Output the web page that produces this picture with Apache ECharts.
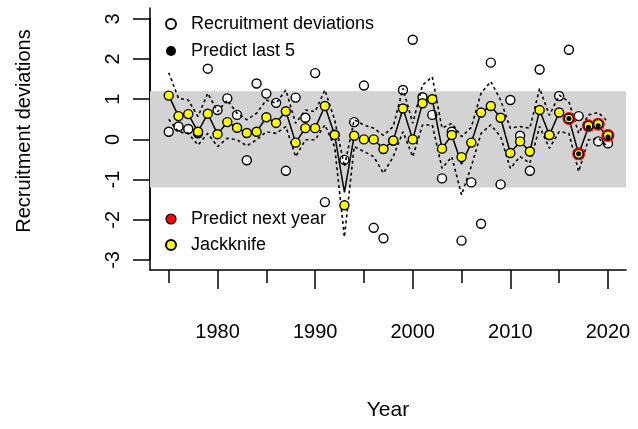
<!DOCTYPE html>
<html>
<head>
<meta charset="utf-8">
<script src="https://cdn.jsdelivr.net/npm/echarts@6/dist/echarts.min.js"></script>
<style>
html, body { margin: 0; padding: 0; background: #fff; }
#main { width: 638px; height: 429px; }
</style>
</head>
<body>
<div id="main"></div>
<script>
// years of the recruitment series
var years = [1975, 1976, 1977, 1978, 1979, 1980, 1981, 1982, 1983, 1984,
             1985, 1986, 1987, 1988, 1989, 1990, 1991, 1992, 1993, 1994,
             1995, 1996, 1997, 1998, 1999, 2000, 2001, 2002, 2003, 2004,
             2005, 2006, 2007, 2008, 2009, 2010, 2011, 2012, 2013, 2014,
             2015, 2016, 2017, 2018, 2019, 2020];

// open circles
var recDevs = [0.19, 0.32, 0.26, 0.15, 1.76, 0.73, 1.02, 0.61, -0.52, 1.39,
               1.14, 0.91, -0.78, 1.04, 0.54, 1.65, -1.56, 0.12, -0.51, 0.43,
               1.34, -2.20, -2.46, -0.03, 1.23, 2.48, 1.05, 0.61, -0.97, 0.19,
               -2.52, -1.07, -2.10, 1.91, -1.12, 0.98, 0.09, -0.78, 1.74, 0.11,
               1.08, 2.23, 0.58, 0.34, -0.05, -0.10];

// yellow points
var jackknife = [1.09, 0.58, 0.63, 0.19, 0.64, 0.13, 0.43, 0.29, 0.16, 0.19,
                 0.55, 0.41, 0.70, -0.08, 0.28, 0.28, 0.83, 0.11, -1.64, 0.09,
                 0.00, 0.00, -0.24, -0.03, 0.77, 0.00, 0.90, 1.00, -0.23, 0.11,
                 -0.44, -0.08, 0.67, 0.83, 0.54, -0.34, -0.05, -0.30, 0.73, 0.11,
                 0.67, 0.52, -0.36, 0.34, 0.38, 0.10];

// solid line
var estimate = [1.09, 0.58, 0.63, 0.19, 0.64, 0.13, 0.43, 0.29, 0.16, 0.19,
                0.55, 0.41, 0.70, -0.08, 0.28, 0.28, 0.83, 0.11, -1.32, 0.09,
                0.00, 0.00, -0.24, -0.03, 0.77, 0.00, 0.90, 1.00, -0.23, 0.11,
                -0.62, -0.08, 0.67, 0.83, 0.54, -0.34, -0.05, -0.30, 0.73, 0.11,
                0.67, 0.52, -0.36, 0.30, 0.34, 0.06];

// dotted bounds
var upper = [1.66, 1.02, 0.98, 0.57, 1.15, 0.69, 0.98, 0.65, 0.49, 0.65,
             0.98, 0.90, 1.23, 0.40, 0.73, 0.69, 1.23, 0.49, -0.68, 0.49,
             0.36, 0.28, 0.10, 0.32, 1.27, 0.40, 1.35, 1.56, 0.28, 0.40,
             0.07, 0.30, 1.15, 1.44, 0.98, 0.28, 0.32, 0.28, 1.27, 0.60,
             1.10, 0.94, 0.15, 0.61, 0.67, 0.44];
var lower = [0.50, 0.19, 0.15, -0.14, 0.15, -0.18, 0.03, -0.01, -0.16, -0.01,
             0.19, 0.15, 0.32, -0.43, -0.01, -0.01, 0.36, -0.18, -2.43, -0.18,
             -0.30, -0.43, -0.84, -0.43, 0.19, -0.43, 0.36, 0.36, -0.72, -0.43,
             -1.38, -0.67, 0.15, 0.36, 0.07, -0.72, -0.43, -0.59, 0.32, -0.22,
             0.19, 0.15, -0.80, -0.01, 0.03, -0.18];

// last five years
var lastYears = [2016, 2017, 2018, 2019, 2020];
var nextYearPred = [0.52, -0.36, 0.34, 0.38, 0.10];
var last5Pred = [0.52, -0.36, 0.30, 0.34, 0.06];

var bandLimits = [-1.2, 1.2];
var xLabelYears = [1980, 1990, 2000, 2010, 2020];
var xMidYears = [1975, 1985, 1995, 2005, 2015];

var FONT = 'Liberation Sans, Arial, sans-serif';

function pairs(xs, ys) {
    return xs.map(function (x, i) { return [x, ys[i]]; });
}

var myChart = echarts.init(document.getElementById('main'));

// plot area and ranges
var W = 638, H = 429;
var plotLeft = 150, plotRight = 626, gridTop = 8, gridBottom = 159;
var xMin = 1973.08, xMax = 2021.85;
var yMin = -3.25, yMax = 3.27;
var pxPerUnit = (H - gridTop - gridBottom) / (yMax - yMin);
var pxPerYear = (plotRight - plotLeft) / (xMax - xMin);
var axisY = H - gridBottom;

// the tick marks are drawn as split lines of small side grids
function xTickGrid(first, last, len) {
    return {
        left: plotLeft + (first - xMin) * pxPerYear,
        right: W - (plotLeft + (last - xMin) * pxPerYear),
        top: axisY, height: len
    };
}
function tickAxis(grid, min, max, step) {
    return {
        type: 'value', gridIndex: grid, min: min, max: max, interval: step,
        axisLine: { show: false }, axisTick: { show: false }, axisLabel: { show: false },
        splitLine: { show: true, lineStyle: { color: '#000', width: 1.5, type: 'solid' } }
    };
}
function hiddenAxis(grid) {
    return { type: 'value', gridIndex: grid, show: false, min: 0, max: 1 };
}

var legendText = { fontSize: 18, color: '#000', fontFamily: FONT, lineHeight: 20, padding: [0, 0, 0, 10] };

var option = {
    animation: false,
    backgroundColor: '#fff',
    grid: [
        { left: plotLeft, right: W - plotRight, top: gridTop, bottom: gridBottom },
        // grid 1 carries the -3..3 y labels
        { left: plotLeft, right: W - plotRight, top: gridTop + (yMax - 3) * pxPerUnit, bottom: gridBottom + (-3 - yMin) * pxPerUnit },
        // grid 2: y ticks
        { left: plotLeft - 17, width: 17, top: gridTop + (yMax - 3) * pxPerUnit, bottom: gridBottom + (-3 - yMin) * pxPerUnit },
        // grid 3: long x ticks, grid 4: mid x ticks
        xTickGrid(xLabelYears[0], xLabelYears[xLabelYears.length - 1], 19),
        xTickGrid(xMidYears[0], xMidYears[xMidYears.length - 1], 13)
    ],
    xAxis: [
        {
            type: 'value', min: xMin, max: xMax, position: 'bottom', gridIndex: 0,
            splitLine: { show: false },
            axisLine: { show: true, onZero: false, lineStyle: { color: '#000', width: 1.5 } },
            axisTick: { show: false },
            axisLabel: {
                show: true, customValues: xLabelYears, margin: 52, fontSize: 20, color: '#000', fontFamily: FONT,
                formatter: function (v) { return String(v); }
            },
            name: 'Year', nameLocation: 'middle', nameGap: 130,
            nameTextStyle: { fontSize: 21, color: '#000', fontFamily: FONT }
        },
        {
            // one small tick per year
            type: 'value', min: xMin, max: xMax, position: 'bottom', gridIndex: 0,
            splitLine: { show: false }, axisLine: { show: false }, axisLabel: { show: false },
            axisTick: { show: true, customValues: years, length: 4, lineStyle: { color: '#000', width: 1.2 } }
        },
        { type: 'value', gridIndex: 1, show: false, min: xMin, max: xMax },
        hiddenAxis(2),
        tickAxis(3, xLabelYears[0], xLabelYears[xLabelYears.length - 1], 10),
        tickAxis(4, xMidYears[0], xMidYears[xMidYears.length - 1], 10)
    ],
    yAxis: [
        {
            type: 'value', min: yMin, max: yMax, gridIndex: 0,
            splitLine: { show: false },
            axisLine: { show: true, onZero: false, lineStyle: { color: '#000', width: 1.5 } },
            axisTick: { show: false },
            axisLabel: { show: false },
            name: 'Recruitment deviations', nameLocation: 'middle', nameGap: 116,
            nameTextStyle: { fontSize: 20, color: '#000', fontFamily: FONT, padding: [0, 0, 0, 16] }
        },
        {
            type: 'value', min: -3, max: 3, interval: 1, gridIndex: 1,
            splitLine: { show: false },
            axisLine: { show: true, lineStyle: { color: '#000', width: 1.5 } },
            axisTick: { show: false },
            axisLabel: { rotate: 90, margin: 27, fontSize: 20, color: '#000', fontFamily: FONT }
        },
        tickAxis(2, -3, 3, 1),
        hiddenAxis(3),
        hiddenAxis(4)
    ],
    legend: [
        {
            data: ['Recruitment deviations', 'Predict last 5'],
            orient: 'vertical', left: 160, top: 9, itemWidth: 10, itemHeight: 10, itemGap: 7,
            icon: 'circle', selectedMode: false, textStyle: legendText
        },
        {
            data: [{ name: 'Predict next year', itemStyle: { borderColor: '#000', borderWidth: 1.2 } }, 'Jackknife'],
            orient: 'vertical', left: 160, top: 204, itemWidth: 10, itemHeight: 10, itemGap: 6,
            icon: 'circle', selectedMode: false, textStyle: legendText
        }
    ],
    series: [
        {
            // grey band
            name: 'band', type: 'line', data: [], z: 0, silent: true,
            markArea: {
                silent: true,
                itemStyle: { color: '#d3d3d3' },
                data: [[{ yAxis: bandLimits[0] }, { yAxis: bandLimits[1] }]]
            }
        },
        {
            name: 'Recruitment deviations', type: 'scatter', z: 2,
            data: pairs(years, recDevs), symbolSize: 9,
            itemStyle: { color: '#fff', borderColor: '#000', borderWidth: 1.4, opacity: 1 }
        },
        {
            name: 'upper', type: 'line', z: 3, data: pairs(years, upper), showSymbol: false, silent: true,
            lineStyle: { color: '#000', width: 1.6, type: [3, 3] }
        },
        {
            name: 'lower', type: 'line', z: 3, data: pairs(years, lower), showSymbol: false, silent: true,
            lineStyle: { color: '#000', width: 1.6, type: [3, 3] }
        },
        {
            name: 'estimate', type: 'line', z: 3, data: pairs(years, estimate), showSymbol: false, silent: true,
            lineStyle: { color: '#000', width: 1.5 }
        },
        {
            name: 'Predict next year', type: 'scatter', z: 4,
            data: pairs(lastYears, nextYearPred), symbolSize: 13,
            itemStyle: { color: '#ff0000', opacity: 1 }
        },
        {
            name: 'Jackknife', type: 'scatter', z: 5,
            data: pairs(years, jackknife), symbolSize: 9,
            itemStyle: { color: '#ffff00', borderColor: '#000', borderWidth: 1.4, opacity: 1 }
        },
        {
            name: 'Predict last 5', type: 'scatter', z: 6,
            data: pairs(lastYears, last5Pred), symbolSize: 5,
            itemStyle: { color: '#000', opacity: 1 }
        }
    ]
};

myChart.setOption(option);
</script>
</body>
</html>
